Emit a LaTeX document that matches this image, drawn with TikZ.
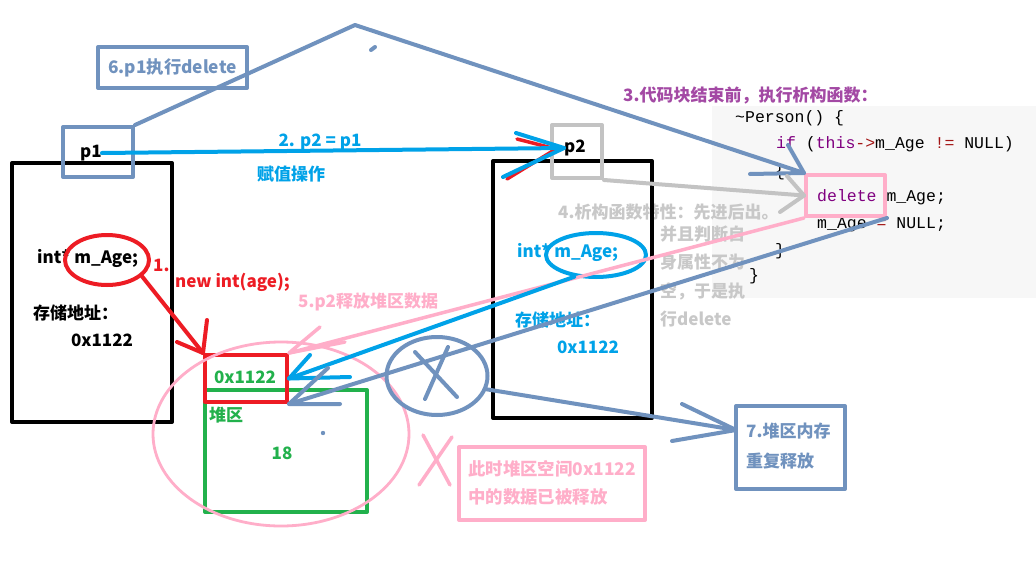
\documentclass[tikz,border=0pt]{standalone}
\usepackage{fontspec}
\setmainfont{Noto Sans CJK SC}
\newfontfamily\codefont{Liberation Mono}
\usetikzlibrary{shapes.geometric}
\definecolor{steel}{RGB}{112,146,190}
\definecolor{cyanp}{RGB}{0,162,232}
\definecolor{redp}{RGB}{237,28,36}
\definecolor{greenp}{RGB}{34,177,76}
\definecolor{pinkp}{RGB}{255,174,201}
\definecolor{grayp}{RGB}{195,195,195}
\definecolor{graytext}{RGB}{200,200,200}
\definecolor{purplet}{RGB}{163,73,164}
\definecolor{codepurple}{RGB}{128,0,128}
\definecolor{codered}{RGB}{163,21,21}
\definecolor{codebg}{RGB}{247,247,247}
\tikzset{
  frame/.style={draw, line width=4pt, inner sep=0pt, rectangle},
  oval/.style={draw, line width=4pt, ellipse, inner sep=0pt},
  lbl/.style={inner sep=0pt, font=\bfseries\fontsize{17}{19}\selectfont},
  biglbl/.style={inner sep=0pt, font=\bfseries\fontsize{17.4}{19}\selectfont},
  code/.style={inner sep=0pt, anchor=west, font=\codefont\fontsize{16.5}{19}\selectfont},
  wire/.style={line width=4pt},
  thinwire/.style={line width=3.5pt},
}
\begin{document}
\begin{tikzpicture}[x=1pt,y=-1pt, line cap=round, line join=round]
\useasboundingbox (0,0) rectangle (1036,570);
\fill[white] (0,0) rectangle (1036,570);

% code panel
\fill[codebg] (712,106) rectangle (1036,298);
\node[code] (c1) at (735,118) {\~{}Person() \{};
\node[code] (c2) at (776,144) {\textcolor{codepurple}{if} (\textcolor{codepurple}{this}\textcolor{codered}{->}m\_Age \textcolor{codered}{!=} NULL)};
\node[code] (c3) at (775,172) {\{};
\node[code] (c4) at (817,197) {\textcolor{codepurple}{delete} m\_Age;};
\node[code] (c5) at (817,225) {m\_Age \textcolor{codered}{=} NULL;};
\node[code] (c6) at (775,251) {\}};
\node[code] (c7) at (749,276) {\}};

% labels
\node[lbl, text=purplet, anchor=west] (t3) at (623,96) {3.代码块结束前，执行析构函数：};
\node[lbl, text=graytext, anchor=west] (t4) at (558,212) {4.析构函数特性：先进后出。};
\node[lbl, text=graytext, anchor=west] (t4a) at (660,234) {并且判断自};
\node[lbl, text=graytext, anchor=west] (t4b) at (660,262) {身属性不为};
\node[lbl, text=graytext, anchor=west] (t4c) at (660,291) {空，于是执};
\node[lbl, text=graytext, anchor=west] (t4d) at (660,319) {行delete};

% left stack object
\node[frame, minimum width=160, minimum height=259] (lbox) at (92,292.5) {};
\node[lbl, anchor=west] (int1) at (37,258) {int* m\_Age;};
\node[oval, draw=redp, minimum width=84, minimum height=50] (re) at (107,260) {};
\node[lbl, anchor=west] (addr1) at (33,313) {存储地址：};
\node[lbl] (hex1) at (102,340) {0x1122};

% right stack object
\node[frame, minimum width=159, minimum height=257] (rbox) at (572.5,289.5) {};
\node[lbl, text=cyanp, anchor=west] (int2) at (517,252) {int* m\_Age;};
\node[oval, draw=cyanp, minimum width=100, minimum height=44] (be) at (596,255) {};
\node[lbl, text=cyanp, anchor=west] (addr2) at (515,320) {存储地址：};
\node[lbl, text=cyanp] (hex2) at (588,347) {0x1122};

% p1 / p2
\node[frame, draw=steel, minimum width=70, minimum height=50] (p1box) at (98,152) {};
\node[lbl] (p1) at (91,153) {p1};
\node[frame, draw=grayp, minimum width=50, minimum height=53] (p2box) at (577,151.5) {};
\node[lbl] (p2) at (575,148) {p2};

% boxes
\node[frame, draw=steel, minimum width=149, minimum height=41, text=steel, font=\bfseries\fontsize{17.3}{19}\selectfont] (b6) at (172.5,67.5) {6.p1执行delete};
\node[frame, draw=pinkp, minimum width=79, minimum height=41] (pinkbox) at (845.5,195.5) {};
\node[frame, draw=steel, minimum width=109, minimum height=83] (b7) at (790.5,447.5) {};
\node[lbl, text=steel, anchor=west] (t7a) at (746,431) {7.堆区内存};
\node[lbl, text=steel, anchor=west] (t7b) at (746,461) {重复释放};
\node[frame, draw=pinkp, minimum width=186, minimum height=73] (pb2) at (552,483.5) {};
\node[biglbl, text=pinkp, anchor=west] (tp1) at (468,469) {此时堆区空间0x1122};
\node[biglbl, text=pinkp, anchor=west] (tp2) at (468,497) {中的数据已被释放};

% heap
\node[frame, draw=greenp, minimum width=162, minimum height=122] (greenbox) at (286,451) {};
\node[frame, draw=redp, minimum width=82, minimum height=47] (redbox) at (246,378.5) {};
\node[lbl, text=greenp] (hexh) at (245,377) {0x1122};
\node[lbl, text=greenp, anchor=west] (heap) at (209,415) {堆区};
\node[lbl, text=greenp] (v18) at (282,453) {18};
\node[draw=pinkp, line width=2.8pt, ellipse, minimum width=256, minimum height=184] (pe) at (281,434) {};
\node[oval, draw=steel, minimum width=101, minimum height=78] (xe) at (437,376) {};

\node[lbl, text=cyanp] (t2) at (320,142) {2. p2 = p1};
\node[lbl, text=cyanp] (t2b) at (291,174) {赋值操作};
\node[lbl, text=redp, anchor=west] (t1) at (153,265) {1.};
\node[lbl, text=redp, anchor=west] (t1b) at (175,282) {new int(age);};
\node[lbl, text=pinkp, anchor=west] (t5) at (298,302) {5.p2释放堆区数据};

% coordinates for free ends
\coordinate (apex) at (355,25);
\coordinate (t7) at (736,430);

% connectors
% 1. new
\draw[wire, redp] (re.-25) -- (redbox.north west);
\draw[wire, redp] (207,320) -- (redbox.north west) -- (177,342);
% 2. assignment
\draw[thinwire, redp] (517,139) -- (556,149) -- (507,179);
\draw[wire, cyanp] (p1.east) -- (p2.west);
\draw[wire, cyanp] (516,133) -- (p2.west) -- (503,177);
% 6. p1 delete
\draw[wire, steel] (p1box.north east) -- (apex) -- (pinkbox.north west);
\draw[wire, steel] (788,145) -- (pinkbox.north west) -- (750,174);
\draw[wire, steel] (371,50) -- (375,47);
% 4. gray
\draw[wire, grayp] (p2box.south east) -- (pinkbox.west);
\draw[wire, grayp] (787,176) -- (pinkbox.west) -- (780,212);
% 5. pink
\draw[thinwire, pinkp] (pinkbox.south west) -- (redbox.north east);
\draw[thinwire, pinkp] (320,327) -- (redbox.north east) -- (345,342);
% cyan back to heap
\draw[wire, cyanp] (be.225) -- (redbox.east);
\draw[wire, cyanp] (310,355) -- (redbox.east) -- (350,377);
% steel second delete
\draw[wire, steel] (pinkbox.south east) -- (redbox.south east);
\draw[wire, steel] (328,368) -- (redbox.south east) -- (340,404);
% X mark
\draw[wire, steel] (415,352) -- (457,397);
\draw[wire, steel] (448,347) -- (425,399);
\draw[wire, steel] (xe.-15) -- (t7);
\draw[wire, steel] (682,404) -- (t7) -- (672,441);
% pink X
\draw[thinwire, pinkp] (423,435) -- (450,485);
\draw[thinwire, pinkp] (452,437) -- (419,485);
% dot
\fill[steel] (323,433) circle (2.2);
\end{tikzpicture}
\end{document}
